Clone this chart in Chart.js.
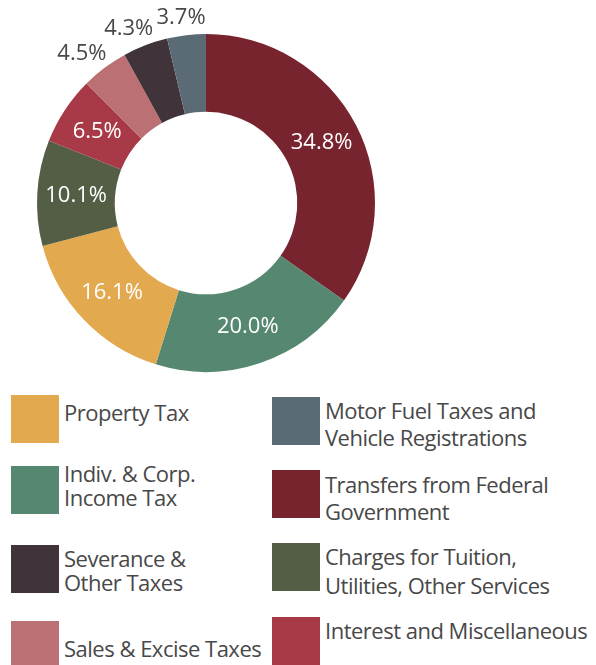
<!DOCTYPE html>
<html lang="en">
<head>
  <meta charset="UTF-8">
  <title>Revenue Sources</title>
  <script src="https://cdn.jsdelivr.net/npm/chart.js"></script>
  <style>
    body { margin: 0; background: #fff; font-family: "Open Sans", sans-serif; color: #484848; }
    .wrap { position: relative; width: 596px; height: 665px; overflow: hidden; }
    #chart { position: absolute; left: 0; top: 0; }
    .sw { position: absolute; width: 48px; height: 48px; }
    .txt { position: absolute; font-size: 22px; line-height: 22px; white-space: nowrap; letter-spacing: -0.5px; }
  </style>
</head>
<body>
  <div class="wrap" id="wrap">
    <canvas id="chart" width="596" height="380"></canvas>
  </div>

  <script>
    // slices, clockwise from 12 o'clock
    const labels = ['Transfers from Federal Government', 'Indiv. & Corp. Income Tax', 'Property Tax',
      'Charges for Tuition, Utilities, Other Services', 'Interest and Miscellaneous',
      'Sales & Excise Taxes', 'Severance & Other Taxes', 'Motor Fuel Taxes and Vehicle Registrations'];
    const values = [34.8, 20.0, 16.1, 10.1, 6.5, 4.5, 4.3, 3.7];
    const colors = ['#77242e', '#558771', '#e3a94f', '#545e45', '#a83a47', '#bb7074', '#40333a', '#5a6b75'];

    // legend text as shown (line breaks), in legend order
    const legendLeft = [
      { i: 2, lines: ['Property Tax'] },
      { i: 1, lines: ['Indiv. & Corp.', 'Income Tax'] },
      { i: 6, lines: ['Severance &', 'Other Taxes'] },
      { i: 5, lines: ['Sales & Excise Taxes'] }
    ];
    const legendRight = [
      { i: 7, lines: ['Motor Fuel Taxes and', 'Vehicle Registrations'] },
      { i: 0, lines: ['Transfers from Federal', 'Government'] },
      { i: 3, lines: ['Charges for Tuition,', 'Utilities, Other Services'] },
      { i: 4, lines: ['Interest and Miscellaneous'] }
    ];

    const pctLabels = {
      id: 'pctLabels',
      afterDatasetsDraw(chart) {
        const ctx = chart.ctx;
        const meta = chart.getDatasetMeta(0);
        ctx.save();
        ctx.font = '22px "Open Sans"';
        ctx.textAlign = 'center';
        ctx.textBaseline = 'middle';
        meta.data.forEach((arc, k) => {
          const mid = (arc.startAngle + arc.endAngle) / 2;
          const txt = values[k].toFixed(1) + '%';
          let r, col, dx = 0, dy = 0;
          if (values[k] >= 6) {
            r = (arc.innerRadius + arc.outerRadius) / 2;
            col = '#ffffff';
          } else {
            r = arc.outerRadius + 21;
            col = '#484848';
            dx = -10 * Math.min(1, 2.5 * Math.abs(Math.cos(mid)));
            dy = 3;
          }
          ctx.fillStyle = col;
          ctx.fillText(txt, arc.x + r * Math.cos(mid) + dx, arc.y + r * Math.sin(mid) + dy);
        });
        ctx.restore();
      }
    };

    new Chart(document.getElementById('chart'), {
      type: 'doughnut',
      data: {
        labels: labels,
        datasets: [{
          data: values,
          backgroundColor: colors,
          borderWidth: 0
        }]
      },
      options: {
        responsive: false,
        animation: false,
        cutout: '54%',
        layout: { padding: { top: 34, bottom: 8, left: 37, right: 221 } },
        plugins: { legend: { display: false }, tooltip: { enabled: false } }
      },
      plugins: [pctLabels]
    });

    // html legend: swatch tops and text baselines
    const wrap = document.getElementById('wrap');
    const leftTops = [395, 466, 545, 621];
    const rightTops = [397, 470, 543, 617];
    const leftBase = [[420], [481, 505], [566, 590], [656]];
    const rightBase = [[418, 445], [492, 519], [564, 593], [638]];
    function addItem(entry, x, swTop, bases) {
      const sw = document.createElement('div');
      sw.className = 'sw';
      sw.style.left = x + 'px';
      sw.style.top = swTop + 'px';
      sw.style.background = colors[entry.i];
      wrap.appendChild(sw);
      entry.lines.forEach((ln, j) => {
        const t = document.createElement('div');
        t.className = 'txt';
        t.style.left = (x + 53) + 'px';
        t.style.top = (bases[j] - 19.5) + 'px';
        t.textContent = ln;
        wrap.appendChild(t);
      });
    }
    legendLeft.forEach((e, k) => addItem(e, 11, leftTops[k], leftBase[k]));
    legendRight.forEach((e, k) => addItem(e, 272, rightTops[k], rightBase[k]));
  </script>
</body>
</html>
